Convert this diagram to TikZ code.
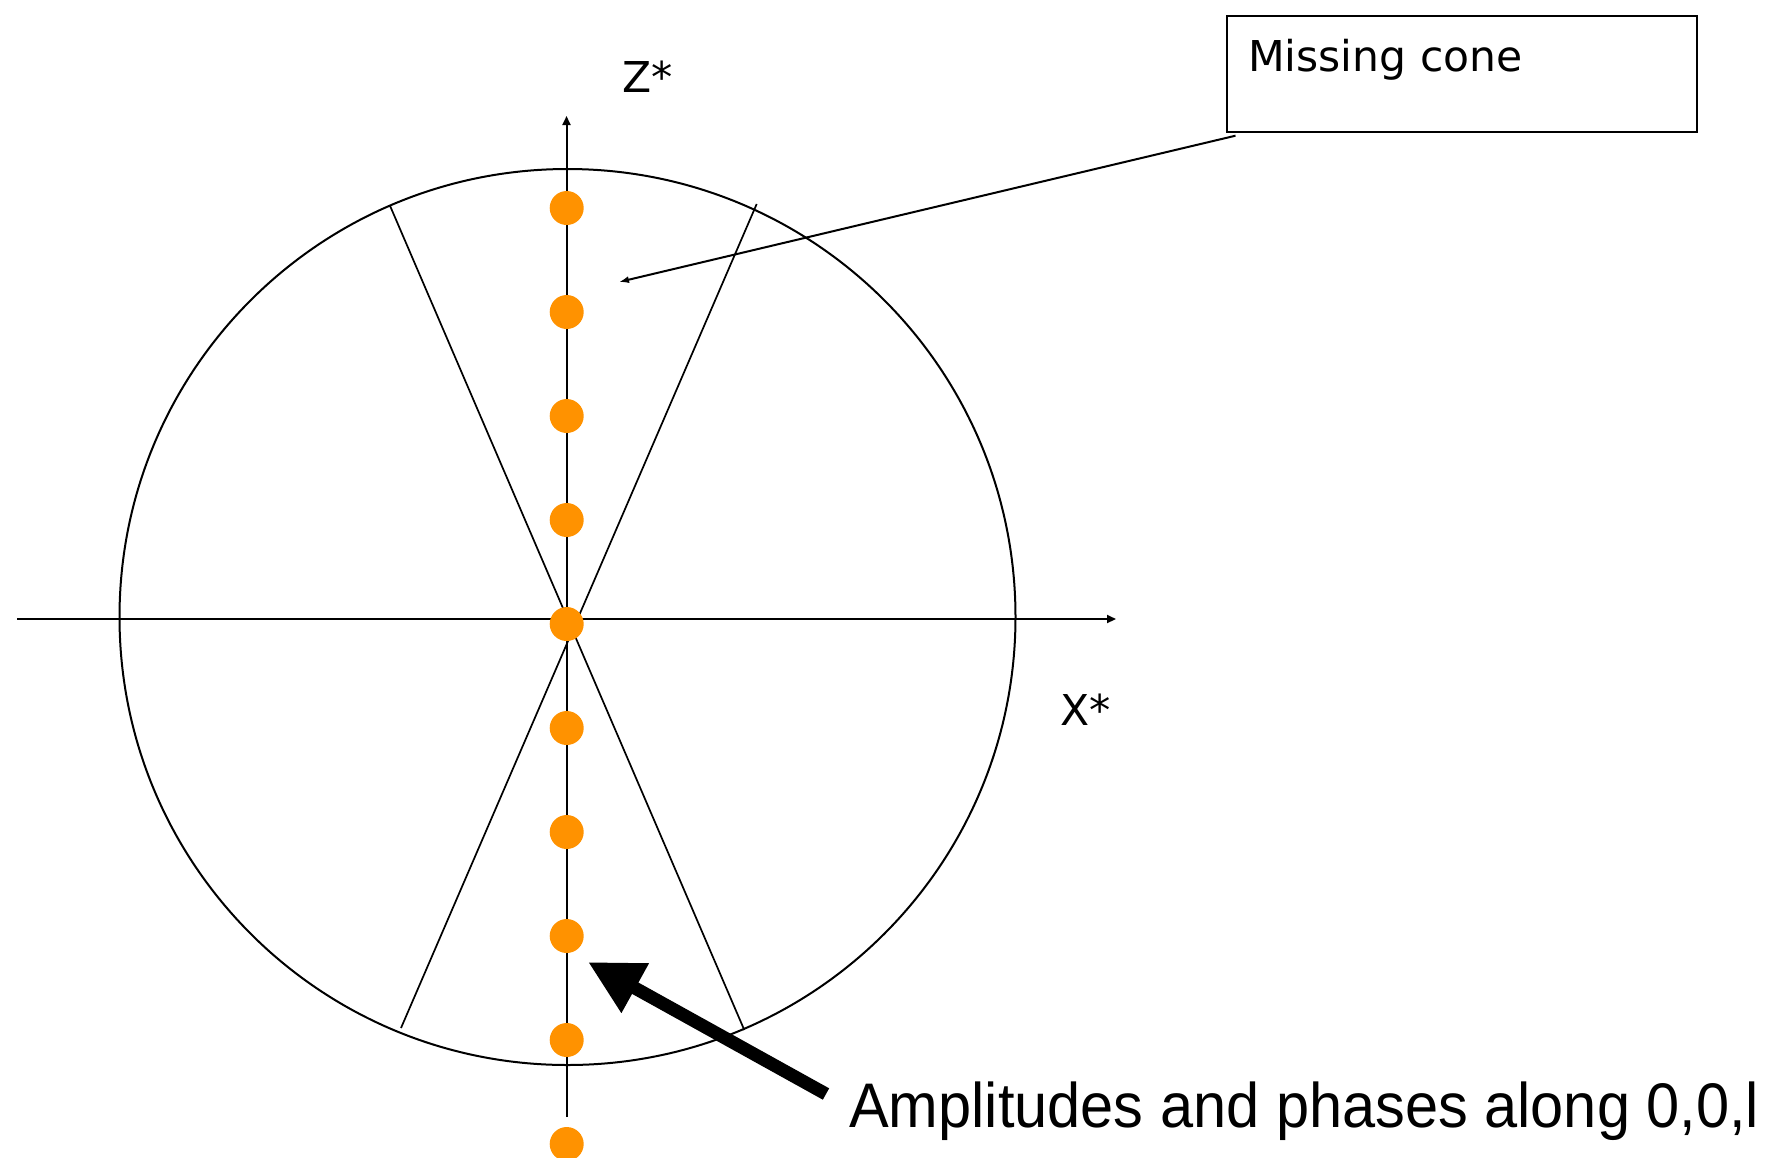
\documentclass[tikz,border=0pt]{standalone}
\usepackage{fontspec}
\setmainfont{DejaVu Sans}
\newfontfamily\notefont{Liberation Sans}
\usetikzlibrary{arrows.meta}
\definecolor{dotorange}{HTML}{FF9200}
\tikzset{
  axisline/.style={line width=2pt, -{Triangle[length=9pt,width=8pt]}},
  conel/.style={line width=1.7pt},
  dotnode/.style={circle, fill=dotorange, draw=none, minimum size=34pt, inner sep=0pt},
  lbl/.style={anchor=base west, inner sep=0pt, font=\fontsize{42.5}{50}\selectfont},
}
\begin{document}
\begin{tikzpicture}[x=1pt, y=-1pt]
\useasboundingbox (0,0) rectangle (1771,1157);
% big circle
\node[circle, draw, line width=2pt, minimum size=896pt, inner sep=0pt] (sphere) at (567.5,617) {};
% cone lines
\coordinate (ul) at (390,205.7);
\coordinate (lr) at (744.3,1030);
\coordinate (ur) at (756.7,204);
\coordinate (ll) at (401,1028);
\draw[conel] (ul) -- (lr);
\draw[conel] (ur) -- (ll);
% axes
\coordinate (xs) at (17,619);
\coordinate (xe) at (1116,619);
\coordinate (zs) at (566.5,1117);
\coordinate (ze) at (566.5,116);
\draw[axisline] (xs) -- (xe);
\draw[axisline] (zs) -- (ze);
% dots
\foreach \k in {0,...,9} {
  \node[dotnode] (d\k) at (566.7,{208+104*\k}) {};
}
% labels
\node[lbl] (zlab) at (622,92.5) {Z*};
\node[lbl] (xlab) at (1060,725) {X*};
% missing cone box
\node[draw, line width=2pt, minimum width=470pt, minimum height=116pt, inner sep=0pt, anchor=north west] (cone) at (1225.5,14.7) {};
\node[lbl] (conetxt) at (1248,71) {Missing cone};
\coordinate (conetip) at (619,282);
\draw[line width=2pt, -{Latex[length=10pt,width=7pt]}] ([xshift=10pt,yshift=-3pt]cone.south west) -- (conetip);
% bottom note
\node[anchor=base west, inner sep=0pt, font=\notefont\fontsize{63}{70}\selectfont] (note) at (849,1127) {\scalebox{0.945}[1]{Amplitudes and phases along 0,0,l}};
\coordinate (notestart) at (826,1094);
\coordinate (noteend) at (588,962);
\draw[line width=13pt, -{Triangle[length=54pt,width=53pt]}] (notestart) -- (noteend);
\end{tikzpicture}
\end{document}
